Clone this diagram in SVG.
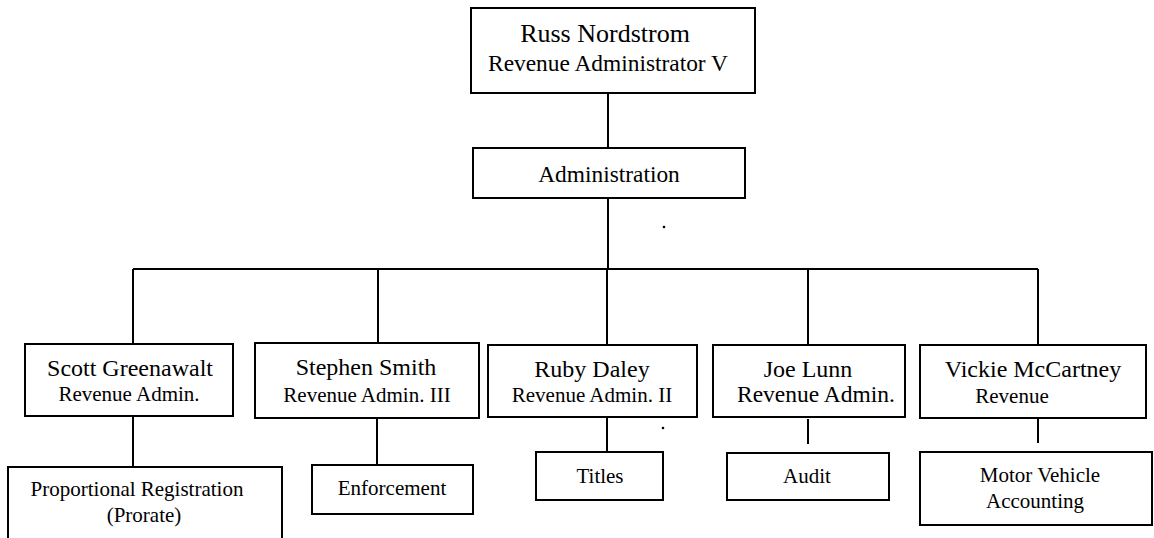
<svg xmlns="http://www.w3.org/2000/svg" width="1154" height="538" viewBox="0 0 1154 538">
<style>
.box{fill:#fff;stroke:#000;stroke-width:2}
.ln{stroke:#000;stroke-width:2;fill:none}
text{font-family:"Liberation Serif","Times New Roman",serif;fill:#000;text-anchor:middle}
.t1{font-size:24px}
.t2{font-size:21px}
</style>
<rect width="1154" height="538" fill="#fff"/>
<g id="connectors">
<path class="ln" d="M608 93V148M608 198V269M133 269H1038M133 269V344M378 269V343M607 269V345M808 269V345M1038 269V345"/>
<path class="ln" d="M133 416V467M377 418V465M607 417V452M808 419V444M1038 419V443"/>
</g>
<g id="russ">
<rect class="box" x="471" y="8" width="284" height="85"/>
<text x="605" y="42" style="font-size:26px">Russ Nordstrom</text>
<text x="608" y="71" style="font-size:23.4px">Revenue Administrator V</text>
</g>
<g id="administration">
<rect class="box" x="473" y="148" width="272" height="50"/>
<text x="609" y="182" style="font-size:23.4px">Administration</text>
</g>
<g id="scott">
<rect class="box" x="25" y="344" width="208" height="72"/>
<text class="t1" x="130" y="376">Scott Greenawalt</text>
<text class="t2" x="129" y="401">Revenue Admin.</text>
</g>
<g id="stephen">
<rect class="box" x="255" y="343" width="224" height="75"/>
<text class="t1" x="366" y="375">Stephen Smith</text>
<text class="t2" x="367" y="402">Revenue Admin. III</text>
</g>
<g id="ruby">
<rect class="box" x="488" y="345" width="209" height="72"/>
<text class="t1" x="592" y="377">Ruby Daley</text>
<text class="t2" x="592" y="402">Revenue Admin. II</text>
</g>
<g id="joe">
<rect class="box" x="713" y="345" width="192" height="72"/>
<text class="t1" x="808" y="377">Joe Lunn</text>
<text x="816" y="402" style="font-size:23.5px">Revenue Admin.</text>
</g>
<g id="vickie">
<rect class="box" x="920" y="345" width="226" height="73"/>
<text class="t1" x="1033" y="377">Vickie McCartney</text>
<text class="t2" x="1012" y="403">Revenue</text>
</g>
<g id="prorate">
<rect class="box" x="8" y="467" width="274" height="80"/>
<text class="t2" x="137" y="496">Proportional Registration</text>
<text class="t2" x="144" y="522">(Prorate)</text>
</g>
<g id="enforcement">
<rect class="box" x="312" y="465" width="161" height="49"/>
<text class="t2" x="392" y="495">Enforcement</text>
</g>
<g id="titles">
<rect class="box" x="536" y="452" width="127" height="48"/>
<text class="t2" x="600" y="483">Titles</text>
</g>
<g id="audit">
<rect class="box" x="727" y="453" width="162" height="47"/>
<text class="t2" x="807" y="483">Audit</text>
</g>
<g id="mva">
<rect class="box" x="920" y="452" width="232" height="73"/>
<text class="t2" x="1040" y="482">Motor Vehicle</text>
<text class="t2" x="1035" y="508">Accounting</text>
</g>
<circle cx="664" cy="227" r="1.3" fill="#000"/>
<circle cx="663" cy="428" r="1.3" fill="#000"/>
</svg>
